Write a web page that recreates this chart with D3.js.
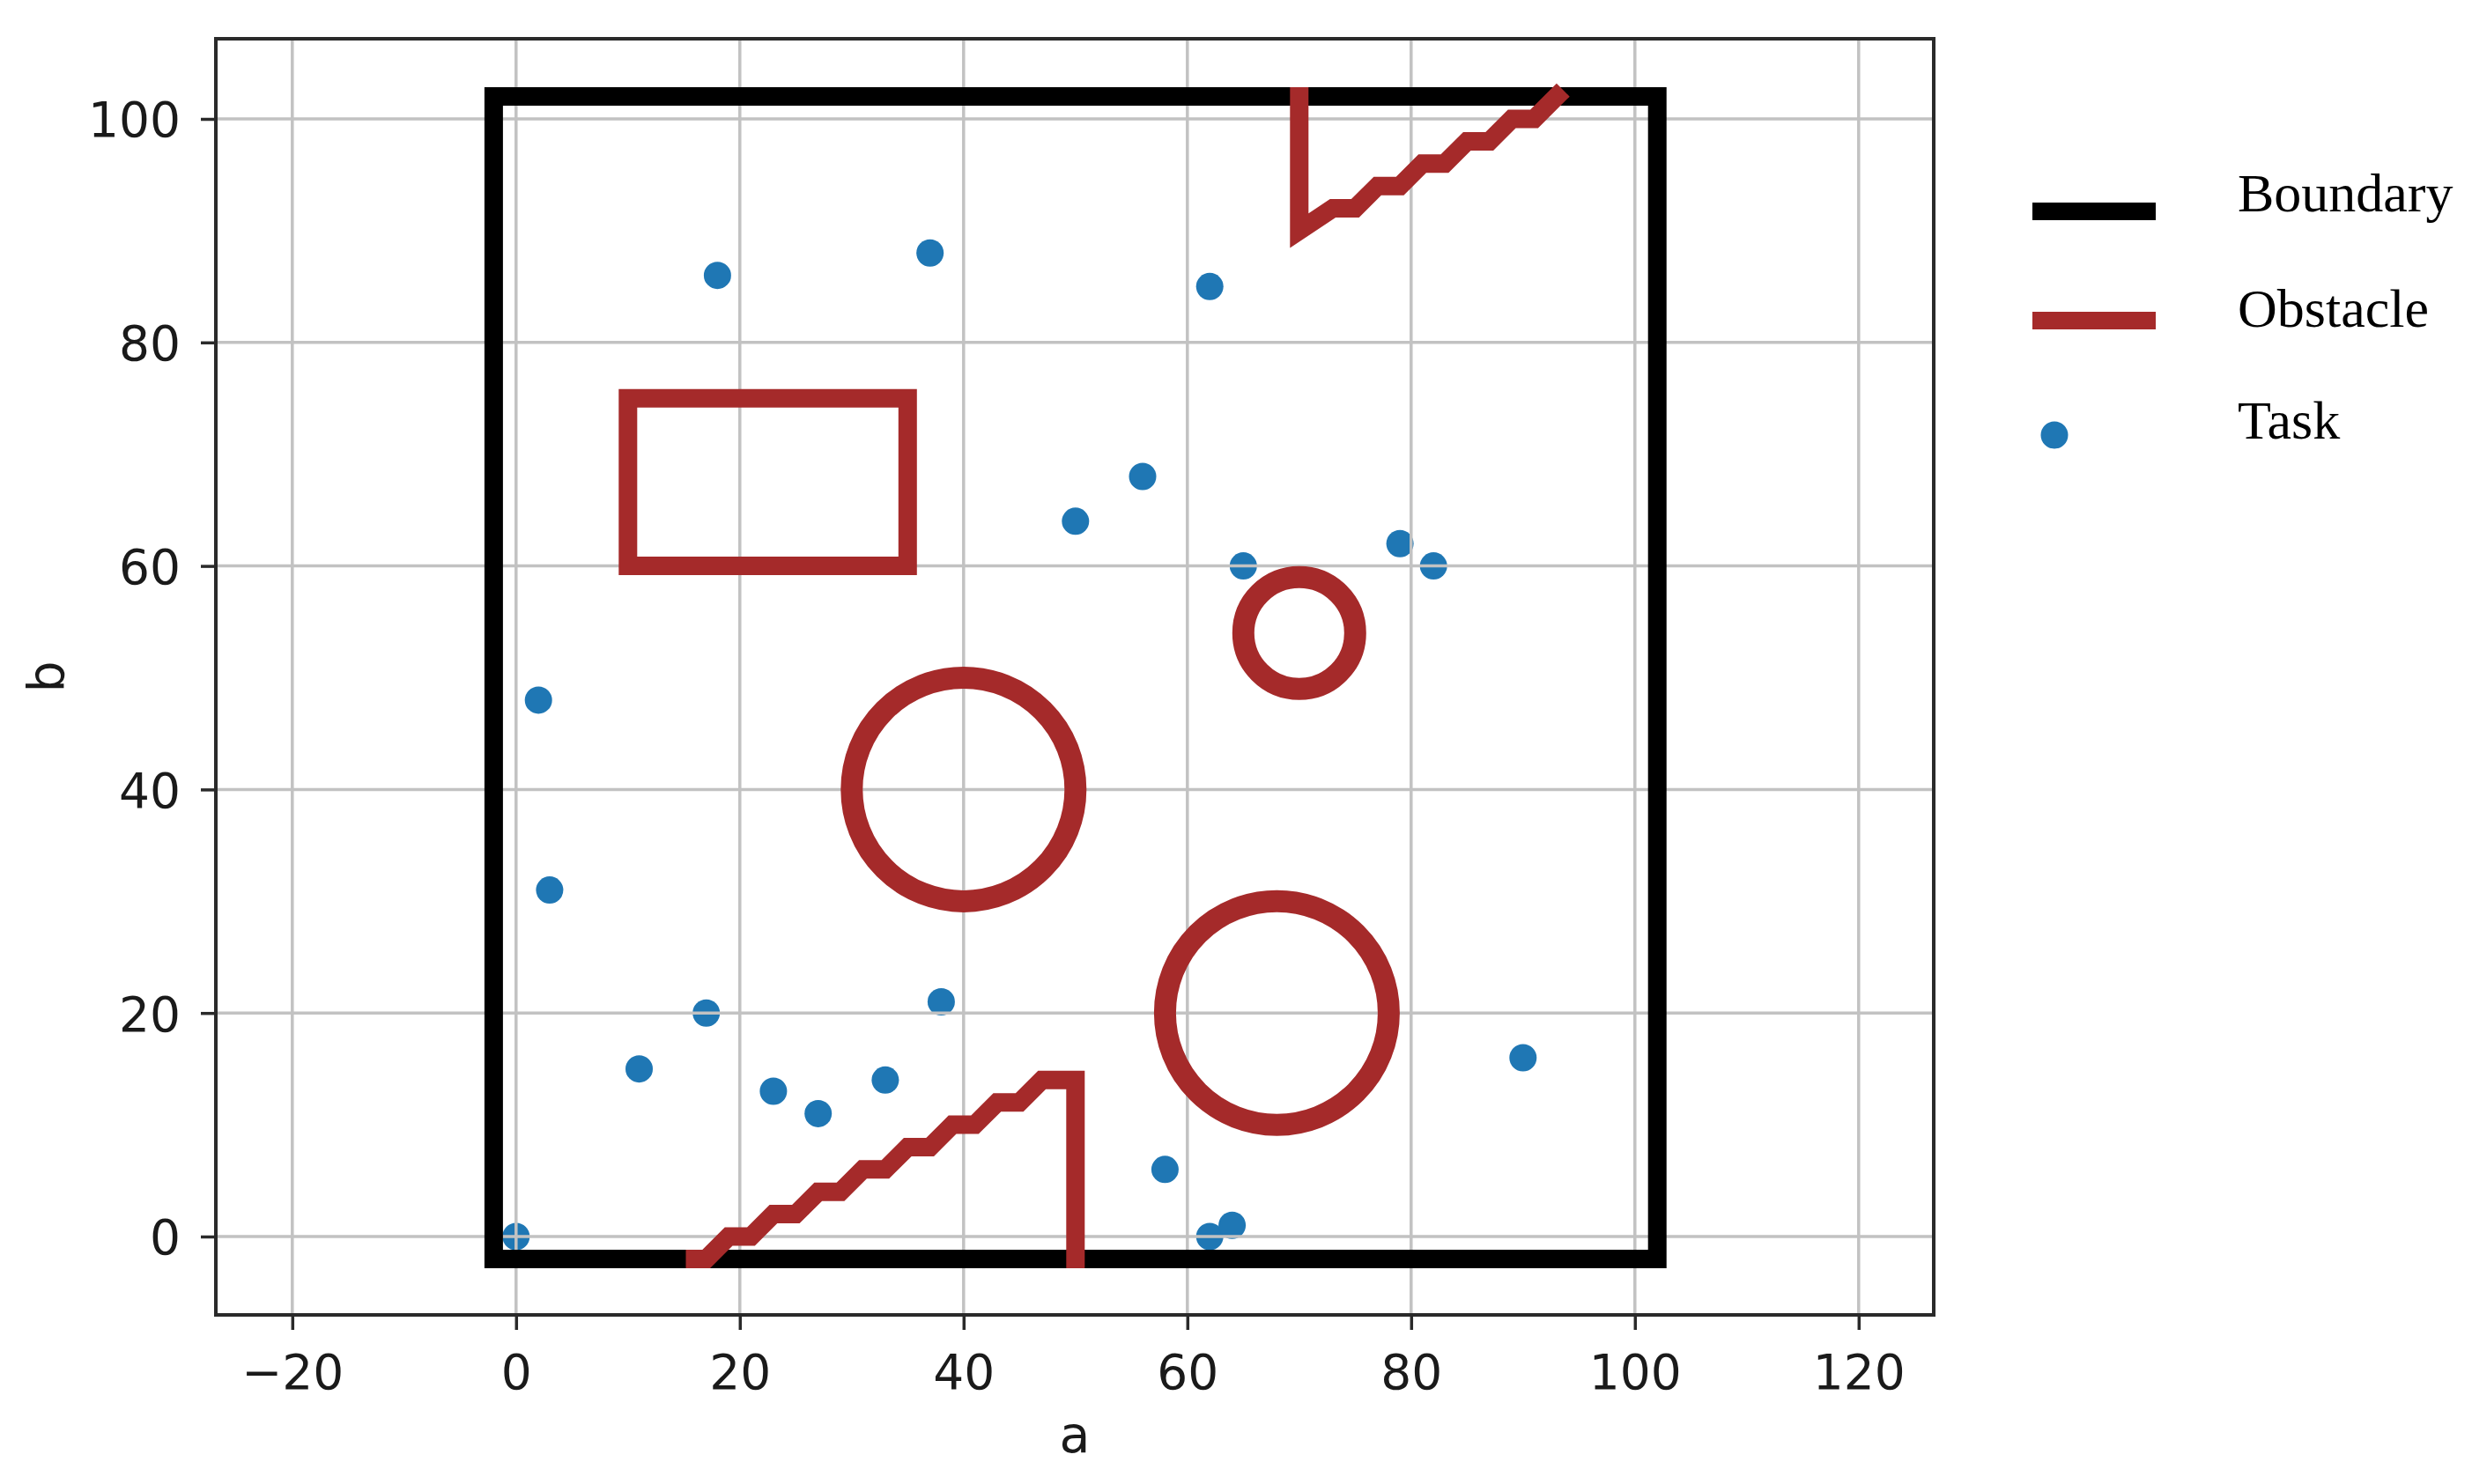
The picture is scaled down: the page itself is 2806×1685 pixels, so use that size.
<!DOCTYPE html>
<html><head><meta charset="utf-8">
<script src="https://cdn.jsdelivr.net/npm/d3@7"></script>
<style>body{margin:0;background:#fff}svg{display:block}</style>
</head><body>
<svg id="chart" width="2806" height="1685"></svg>
<script>
// ---------- data ----------
const xTicks = [-20, 0, 20, 40, 60, 80, 100, 120];
const yTicks = [0, 20, 40, 60, 80, 100];

const boundaryA = [-2, 102, 102, -2, -2];
const boundaryB = [-2, -2, 102, 102, -2];

const rectA = [10, 35, 35, 10, 10];
const rectB = [60, 60, 75, 75, 60];

const bottomRampA = [16, 17, 19, 21, 23, 25, 27, 29, 31, 33, 35, 37, 39, 41, 43, 45, 47, 50, 50];
const bottomRampB = [-2, -2, 0, 0, 2, 2, 4, 4, 6, 6, 8, 8, 10, 10, 12, 12, 14, 14, -2];

const topRampA = [70, 70, 73, 75, 77, 79, 81, 83, 85, 87, 89, 91, 93];
const topRampB = [102, 90, 92, 92, 94, 94, 96, 96, 98, 98, 100, 100, 102];

const circleA = [40, 68, 70];
const circleB = [40, 20, 54];
const circleR = [10, 10, 5];

const taskA = [18, 37, 62, 56, 50, 65, 79, 82, 2, 3, 17, 38, 11, 23, 27, 33, 90, 58, 62, 64, 0];
const taskB = [86, 88, 85, 68, 64, 60, 62, 60, 48, 31, 20, 21, 15, 13, 11, 14, 16, 6, 0, 1, 0];

const legendLabels = ["Boundary", "Obstacle", "Task"];

// ---------- layout ----------
const L = 245, R = 2195, T = 44, B = 1493;
const x = d3.scaleLinear().domain([(L - 585.8) / 12.7, (R - 585.8) / 12.7]).range([L, R]);
const y = d3.scaleLinear().domain([-(B - 1404) / 12.69, 100 + (135 - T) / 12.69]).range([B, T]);

const svg = d3.select("#chart");
svg.append("rect").attr("width", 2806).attr("height", 1685).attr("fill", "#fff");

const BROWN = "#a52a2a", BLUE = "#1f77b4";
const line = d3.line().x(d => x(d[0])).y(d => y(d[1]));
const zip = (a, b) => a.map((v, i) => [v, b[i]]);

svg.append("defs").append("clipPath").attr("id", "clip")
  .append("rect").attr("x", L).attr("y", T).attr("width", R - L).attr("height", B - T);
const plot = svg.append("g").attr("clip-path", "url(#clip)");

// tasks (scatter, below grid as in matplotlib)
plot.append("g").selectAll("circle").data(zip(taskA, taskB)).join("circle")
  .attr("cx", d => x(d[0])).attr("cy", d => y(d[1])).attr("r", 15.5).attr("fill", BLUE);

// grid
const grid = plot.append("g").attr("stroke", "#c2c2c2").attr("stroke-width", 3.5);
grid.selectAll(".gx").data(xTicks).join("line")
  .attr("x1", d => x(d)).attr("x2", d => x(d)).attr("y1", T).attr("y2", B);
grid.selectAll(".gy").data(yTicks).join("line")
  .attr("y1", d => y(d)).attr("y2", d => y(d)).attr("x1", L).attr("x2", R);

// boundary
plot.append("path").datum(zip(boundaryA, boundaryB)).attr("d", line)
  .attr("fill", "none").attr("stroke", "#000").attr("stroke-width", 21)
  .attr("stroke-linejoin", "miter").attr("stroke-linecap", "square");

// obstacles
const obst = plot.append("g").attr("fill", "none").attr("stroke", BROWN);
obst.append("path").datum(zip(rectA, rectB)).attr("d", line).attr("stroke-width", 21)
  .attr("stroke-linejoin", "miter").attr("stroke-linecap", "square");
obst.append("path").datum(zip(bottomRampA, bottomRampB)).attr("d", line).attr("stroke-width", 21)
  .attr("stroke-linejoin", "miter").attr("stroke-linecap", "square");
obst.append("path").datum(zip(topRampA, topRampB)).attr("d", line).attr("stroke-width", 21)
  .attr("stroke-linejoin", "miter").attr("stroke-linecap", "square");
obst.selectAll("circle").data(circleA.map((a, i) => [a, circleB[i], circleR[i]])).join("circle")
  .attr("cx", d => x(d[0])).attr("cy", d => y(d[1]))
  .attr("r", d => x(d[0] + d[2]) - x(d[0])).attr("stroke-width", 25);

// spines
svg.append("rect").attr("x", L).attr("y", T).attr("width", R - L).attr("height", B - T)
  .attr("fill", "none").attr("stroke", "#2a2a2a").attr("stroke-width", 4);

// axes
const xAxis = d3.axisBottom(x).tickValues(xTicks).tickSize(17).tickPadding(24)
  .tickFormat(d => d < 0 ? "\u2212" + Math.abs(d) : String(d));
const gx = svg.append("g").attr("transform", `translate(0,${B})`).call(xAxis);
gx.select(".domain").remove();
gx.selectAll(".tick line").attr("stroke", "#2a2a2a").attr("stroke-width", 3.5);
gx.selectAll(".tick text").attr("font-family", "DejaVu Sans").attr("font-size", 55)
  .attr("fill", "#1a1a1a").attr("dy", null).attr("y", 84);

const yAxis = d3.axisLeft(y).tickValues(yTicks).tickSize(17).tickPadding(24);
const gy = svg.append("g").attr("transform", `translate(${L},0)`).call(yAxis);
gy.select(".domain").remove();
gy.selectAll(".tick line").attr("stroke", "#2a2a2a").attr("stroke-width", 3.5);
gy.selectAll(".tick text").attr("font-family", "DejaVu Sans").attr("font-size", 55)
  .attr("fill", "#1a1a1a").attr("x", -40).attr("dy", "0.36em");

// axis labels
svg.append("text").attr("x", (L + R) / 2).attr("y", 1649).attr("text-anchor", "middle")
  .attr("font-family", "DejaVu Sans").attr("font-size", 57).attr("fill", "#1a1a1a").text("a");
svg.append("text").attr("transform", `translate(72,${(T + B) / 2}) rotate(-90)`)
  .attr("text-anchor", "middle").attr("font-family", "DejaVu Sans").attr("font-size", 57)
  .attr("fill", "#1a1a1a").text("b");

// legend
const lg = svg.append("g");
const legY = [240, 364, 494];
lg.append("line").attr("x1", 2307).attr("x2", 2447).attr("y1", legY[0]).attr("y2", legY[0])
  .attr("stroke", "#000").attr("stroke-width", 20);
lg.append("line").attr("x1", 2307).attr("x2", 2447).attr("y1", legY[1]).attr("y2", legY[1])
  .attr("stroke", BROWN).attr("stroke-width", 20);
lg.append("circle").attr("cx", 2332).attr("cy", legY[2]).attr("r", 15.5).attr("fill", BLUE);
const textBase = [240, 371, 498];
lg.selectAll("text").data(legendLabels).join("text")
  .attr("x", 2540).attr("y", (d, i) => textBase[i])
  .attr("font-family", "Liberation Serif").attr("font-size", 62).attr("fill", "#000")
  .text(d => d);
</script>
</body></html>
